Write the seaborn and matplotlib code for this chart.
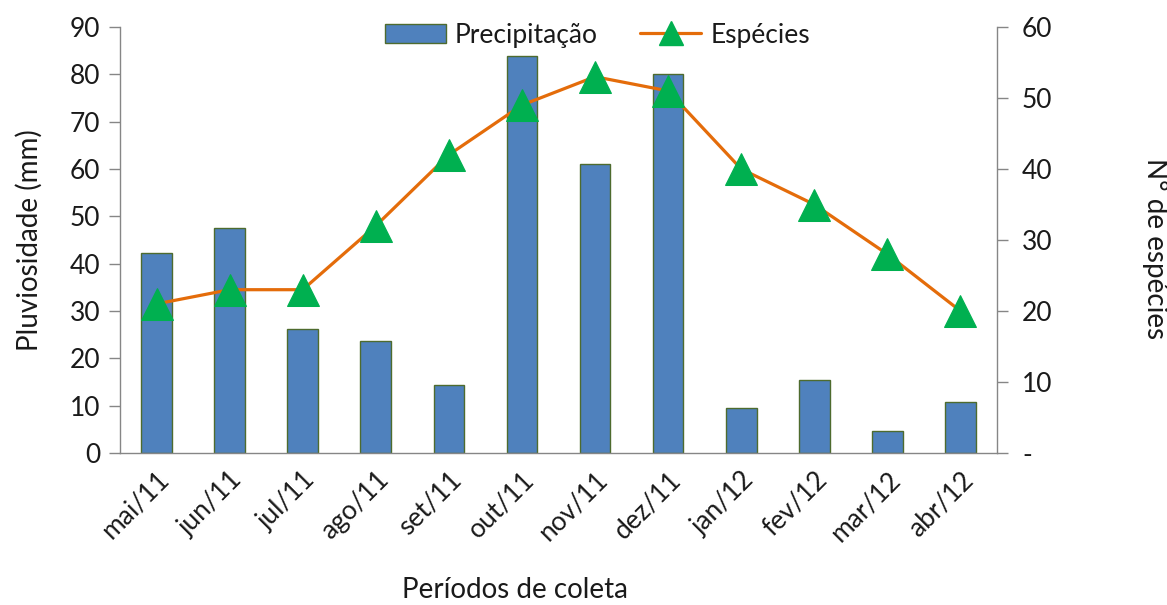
import numpy as np
import pandas as pd
import matplotlib
matplotlib.use("Agg")
import matplotlib.pyplot as plt
from matplotlib.lines import Line2D
from matplotlib.patches import Patch
from matplotlib.ticker import FuncFormatter, FixedLocator
import seaborn as sns

# Monthly collection periods
periodos = ["mai/11", "jun/11", "jul/11", "ago/11", "set/11", "out/11",
            "nov/11", "dez/11", "jan/12", "fev/12", "mar/12", "abr/12"]
# Rainfall (mm)
precipitacao = [42.2, 47.5, 26.2, 23.7, 14.3, 83.8,
                61.1, 80.0, 9.5, 15.5, 4.6, 10.8]
# Number of species
especies = [21, 23, 23, 32, 42, 49, 53, 51, 40, 35, 28, 20]

df = pd.DataFrame({
    "periodo": pd.Categorical(periodos, categories=periodos, ordered=True),
    "pos": np.arange(len(periodos)),
    "precipitacao": precipitacao,
    "especies": especies,
})

sns.set_theme(style="white")
plt.rcParams["font.family"] = ["Lato", "DejaVu Sans"]

BAR = "#4F81BD"
BAR_EDGE = "#4E6B2E"
LINE = "#E46C0A"
MARK = "#00B050"
AXIS = "#868686"
TXT = "#1a1a1a"
FS = 19
FS_LAB = 20

fig = plt.figure(figsize=(11.67, 6.05), dpi=100)
ax = fig.add_axes([120 / 1167, 1 - 453 / 605, 877 / 1167, 426 / 605])

sns.barplot(data=df, x="periodo", y="precipitacao", ax=ax, color=BAR,
            width=0.42, edgecolor=BAR_EDGE, linewidth=1.0, saturation=1)

ax2 = ax.twinx()
sns.lineplot(data=df, x="pos", y="especies", ax=ax2, color=LINE,
             linewidth=2.3, marker="^", markersize=23,
             markerfacecolor=MARK, markeredgecolor=MARK, zorder=5)

ax.set_xlim(-0.5, len(periodos) - 0.5)
ax2.set_xlim(-0.5, len(periodos) - 0.5)
ax.set_ylim(0, 90)
ax2.set_ylim(0, 60)
ax.set_yticks(np.arange(0, 91, 10))
ax2.set_yticks(np.arange(0, 61, 10))
ax2.yaxis.set_major_formatter(FuncFormatter(lambda v, p: "-" if v == 0 else f"{v:.0f}"))

# Category ticks sit between the bars
ax.xaxis.set_major_locator(FixedLocator(np.arange(len(periodos))))
ax.set_xticklabels(periodos, rotation=45, ha="right", rotation_mode="anchor",
                   fontsize=FS, color=TXT)
ax.xaxis.set_minor_locator(FixedLocator(np.arange(-0.5, len(periodos), 1.0)))
ax.tick_params(axis="x", which="major", length=0, pad=10)
ax.tick_params(axis="x", which="minor", length=8, width=1, color=AXIS, direction="out")
ax.tick_params(axis="y", length=8, width=1, color=AXIS, labelsize=FS,
               labelcolor=TXT, direction="out", left=True, pad=6)
ax2.tick_params(axis="y", length=8, width=1, color=AXIS, labelsize=FS,
                labelcolor=TXT, direction="out", right=True, pad=10)

for a in (ax, ax2):
    a.spines["top"].set_visible(False)
    for s in ("left", "right", "bottom"):
        a.spines[s].set_color(AXIS)
        a.spines[s].set_linewidth(1)
ax.spines["right"].set_visible(False)
ax2.spines["left"].set_visible(False)
ax2.spines["bottom"].set_visible(False)

ax.set_xlabel("Períodos de coleta", fontsize=FS_LAB, color=TXT)
ax.xaxis.set_label_coords(0.450, -0.29)
ax.set_ylabel("Pluviosidade (mm)", fontsize=FS_LAB, color=TXT, va="center")
ax.yaxis.set_label_coords(-0.103, 0.5)
ax2.set_ylabel("N° de espécies", fontsize=FS_LAB, color=TXT, rotation=270,
               va="center")
ax2.yaxis.set_label_coords(1.18, 0.48)

handles = [
    Patch(facecolor=BAR, edgecolor=BAR_EDGE, linewidth=1.0),
    Line2D([], [], color=LINE, linewidth=2.3, marker="^", markersize=17,
           markerfacecolor=MARK, markeredgecolor=MARK),
]
fig.legend(handles, ["Precipitação", "Espécies"], loc="center",
           bbox_to_anchor=(0.512, 0.942), ncol=2, frameon=False,
           fontsize=FS, handlelength=2.3, handleheight=0.7,
           handletextpad=0.35, columnspacing=1.6, labelcolor=TXT)

fig.savefig("out.png", dpi=100)
